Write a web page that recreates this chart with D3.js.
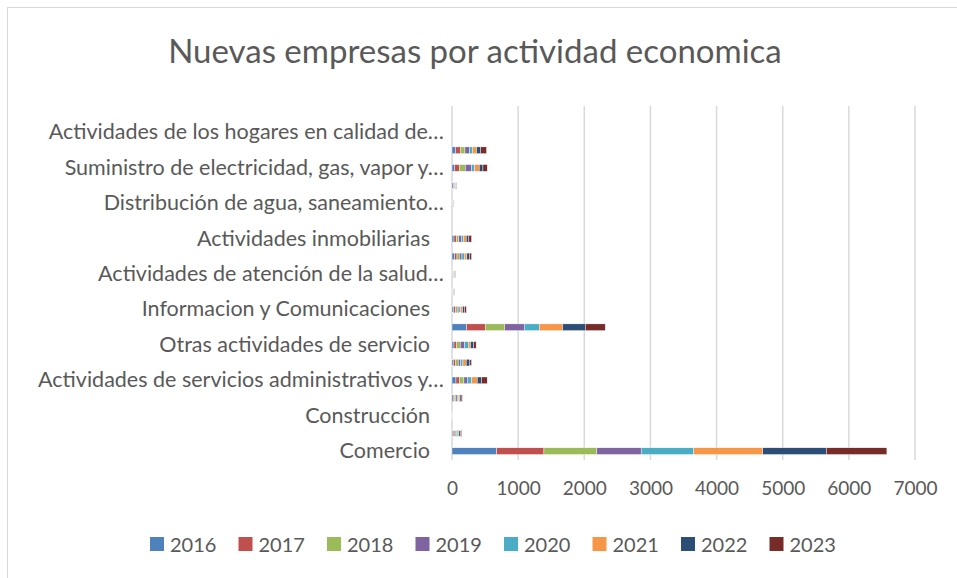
<!DOCTYPE html>
<html>
<head>
<meta charset="utf-8">
<script src="https://cdn.jsdelivr.net/npm/d3@7"></script>
<style>
  body { margin: 0; background: #fff; }
  svg text { font-family: Lato, sans-serif; fill: #595959; }
</style>
</head>
<body>
<div id="chart"></div>
<script>
const w = 957;
const h = 578;

// categories from bottom (Comercio) to top; only every other one is labelled
const categories = [
  "Comercio",
  "Industria manufacturera",
  "Construcción",
  "Actividades profesionales, científicas y técnicas",
  "Actividades de servicios administrativos y…",
  "Transporte y almacenamiento",
  "Otras actividades de servicio",
  "Alojamiento y servicios de comida",
  "Informacion y Comunicaciones",
  "Educación",
  "Actividades de atención de la salud…",
  "Agricultura, ganadería, caza, silvicultura y pesca",
  "Actividades inmobiliarias",
  "Administración pública y defensa",
  "Distribución de agua, saneamiento…",
  "Explotación de minas y canteras",
  "Suministro de electricidad, gas, vapor y…",
  "Actividades financieras y de seguros",
  "Actividades de los hogares en calidad de…",
  "Actividades artísticas, de entretenimiento y recreación"
];

const years = ["2016", "2017", "2018", "2019", "2020", "2021", "2022", "2023"];
const colorTable = ["#4F81BD", "#C0504D", "#9BBB59", "#8064A2", "#4BACC6", "#F79646", "#2C4D75", "#772C2A"];

const v2016 = [675, 15, 1, 20, 60, 20, 30, 221, 25, 4, 6, 40, 30, 0, 4, 20, 39, 54, 0, 0];
const v2017 = [715, 15, 1, 20, 55, 35, 40, 282, 30, 5, 6, 35, 35, 0, 5, 10, 76, 76, 0, 0];
const v2018 = [800, 20, 1, 20, 65, 40, 55, 292, 25, 4, 6, 35, 35, 0, 3, 10, 86, 66, 0, 0];
const v2019 = [670, 20, 1, 20, 50, 35, 65, 298, 25, 4, 6, 40, 40, 0, 4, 10, 95, 65, 0, 0];
const v2020 = [796, 20, 1, 20, 65, 35, 55, 227, 25, 4, 6, 35, 30, 0, 3, 10, 45, 45, 0, 0];
const v2021 = [1042, 15, 1, 20, 86, 50, 35, 352, 30, 5, 7, 40, 45, 0, 4, 5, 71, 65, 0, 0];
const v2022 = [962, 25, 1, 18, 65, 55, 50, 343, 30, 5, 7, 40, 40, 0, 4, 5, 56, 60, 0, 0];
const v2023 = [915, 15, 1, 18, 86, 25, 35, 302, 27, 4, 6, 30, 40, 0, 3, 5, 65, 91, 0, 0];

const series = [v2016, v2017, v2018, v2019, v2020, v2021, v2022, v2023];
const xTicks = [0, 1000, 2000, 3000, 4000, 5000, 6000, 7000];

const rows = categories.map((c, i) => {
    const row = { cat: c };
    years.forEach((y, j) => row[y] = series[j][i]);
    return row;
});

const plot = { left: 452, right: 915, top: 106, bottom: 460 };

const xScale = d3.scaleLinear()
                .domain([0, 7000])
                .range([plot.left, plot.right]);

const yScale = d3.scaleBand()
                .domain(categories)
                .range([plot.bottom, plot.top])
                .paddingInner(0.62)
                .paddingOuter(0.31);

const stack = d3.stack().keys(years)(rows);

const svg = d3.select("#chart")
                .append("svg")
                .attr("width", w)
                .attr("height", h);

svg.append("rect")
    .attr("x", 7.5)
    .attr("y", 7.5)
    .attr("width", w + 20)
    .attr("height", h + 20)
    .attr("fill", "#fff")
    .attr("stroke", "#d9d9d9");

svg.append("text")
    .text("Nuevas empresas por actividad economica")
    .attr("text-anchor", "middle")
    .attr("x", 475)
    .attr("y", 63)
    .style("font-size", "33px");

// gridlines
svg.append("g")
    .selectAll("line")
    .data(xTicks)
    .enter()
    .append("line")
    .attr("x1", (d) => xScale(d))
    .attr("x2", (d) => xScale(d))
    .attr("y1", plot.top)
    .attr("y2", plot.bottom)
    .attr("stroke", "#d9d9d9")
    .attr("stroke-width", 1.5);

svg.append("g")
    .selectAll("g")
    .data(stack)
    .enter()
    .append("g")
    .attr("fill", (d, i) => colorTable[i])
    .selectAll("rect")
    .data((d) => d)
    .enter()
    .append("rect")
    .attr("x", (d) => xScale(d[0]))
    .attr("y", (d) => yScale(d.data.cat))
    .attr("width", (d) => xScale(d[1]) - xScale(d[0]))
    .attr("height", yScale.bandwidth())
    .attr("stroke", "#fff")
    .attr("stroke-width", 0.4);

const xAxis = d3.axisBottom(xScale)
                .tickValues(xTicks)
                .tickFormat(d3.format("d"))
                .tickSize(0)
                .tickPadding(0);

svg.append("g")
    .attr("transform", `translate(0, ${plot.bottom + 21})`)
    .call(xAxis)
    .call((g) => g.select(".domain").remove())
    .selectAll("text")
    .style("font-size", "19px")
    .attr("fill", "#595959");

const yAxis = d3.axisLeft(yScale)
                .tickValues(categories.filter((d, i) => i % 2 === 0))
                .tickSize(0)
                .tickPadding(22);

// truncated labels run a little further right, as in the original
svg.append("g")
    .attr("transform", `translate(${plot.left}, 0)`)
    .call(yAxis)
    .call((g) => g.select(".domain").remove())
    .selectAll("text")
    .style("font-size", "21.5px")
    .attr("dx", (d) => d.endsWith("…") ? 14 : 0)
    .attr("fill", "#595959");

const legend = svg.append("g")
                .selectAll("g")
                .data(years)
                .enter()
                .append("g")
                .attr("transform", (d, i) => `translate(${150 + i * 88.5}, 537)`);

legend.append("rect")
    .attr("width", 14)
    .attr("height", 14)
    .attr("fill", (d, i) => colorTable[i]);

legend.append("text")
    .text((d) => d)
    .attr("x", 20)
    .attr("y", 14.5)
    .style("font-size", "20px");
</script>
</body>
</html>
